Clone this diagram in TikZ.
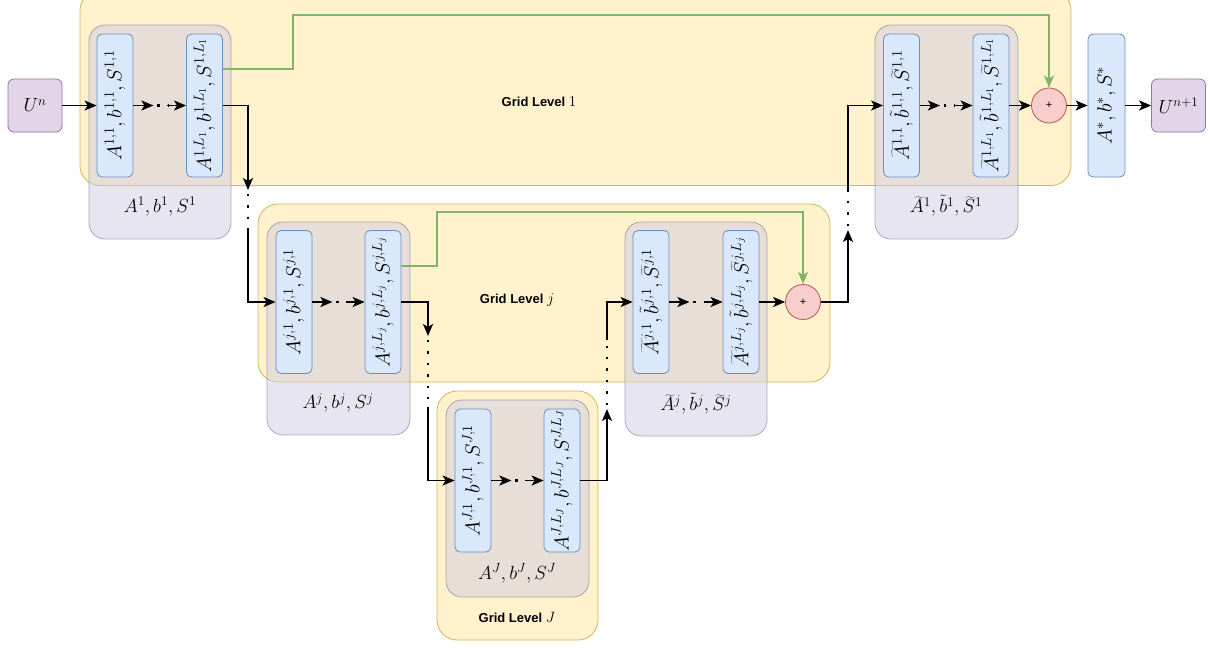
\RequirePackage{fix-cm}
\documentclass[tikz,border=0pt]{standalone}
\usepackage{fontspec}
\newfontfamily\helv{Liberation Sans}
\usetikzlibrary{arrows.meta,calc}
\definecolor{ylwF}{HTML}{FFF2CC}\definecolor{ylwD}{HTML}{D6B656}
\definecolor{bluF}{HTML}{DAE8FC}\definecolor{bluD}{HTML}{6C8EBF}
\definecolor{purF}{HTML}{E1D5E7}\definecolor{purD}{HTML}{9673A6}
\definecolor{redF}{HTML}{F8CECC}\definecolor{redD}{HTML}{B85450}
\definecolor{grnD}{HTML}{82B366}
\definecolor{grpF}{HTML}{D0CEE2}\definecolor{grpD}{HTML}{56517E}
\newcommand\mathfont{\fontsize{19}{22}\selectfont}
\newcommand\rotfont{\fontsize{20.5}{23}\selectfont}
\tikzset{
 level/.style={draw=ylwD, fill=ylwF, rounded corners=20pt, line width=0.8pt, inner sep=0pt},
 group/.style={draw=grpD, draw opacity=0.45, fill=grpF, fill opacity=0.5, rounded corners=16pt, line width=0.8pt, inner sep=0pt},
 layer/.style={draw=bluD, fill=bluF, rounded corners=5pt, minimum width=36pt, minimum height=143pt, inner sep=0pt, line width=0.8pt},
 state/.style={draw=purD, fill=purF, rounded corners=6pt, minimum width=54pt, minimum height=53pt, inner sep=0pt, line width=0.8pt, font=\mathfont},
 sumnode/.style={circle, draw=redD, fill=redF, minimum size=35pt, inner sep=0pt, line width=0.8pt, font=\helv\fontsize{11}{13}\selectfont},
 arr/.style={-{Stealth[length=12pt,width=10pt,inset=3pt]}, line width=1.8pt},
 dotline/.style={line width=2.4pt, dash pattern=on 2.4pt off 9pt, dash phase=-4pt},
 grnarr/.style={draw=grnD, line width=1.8pt, -{Stealth[length=12pt,width=10pt,inset=3pt]}},
 lvltext/.style={font=\helv\bfseries\fontsize{13}{15}\selectfont},
 grplabel/.style={font=\mathfont, inner sep=1pt},
 rot/.style={rotate=90, font=\rotfont, inner sep=0pt},
}
\newcommand\linkdots[2]{%
 \draw[arr] (#1.east) -- ($(#1.east)+(20,0)$);
 \draw[line width=2.4pt, dash pattern=on 2.4pt off 8pt, dash phase=-2pt] ($(#1.east)+(22,0)$) -- ($(#2.west)+(-18,0)$);
 \draw[arr] ($(#2.west)+(-19,0)$) -- (#2.west);}
\begin{document}
\begin{tikzpicture}[x=1pt,y=-1pt]
\useasboundingbox (0,0) rectangle (1210,648);
\clip (0,0) rectangle (1210,648);
% containers
\node[level, minimum width=991pt, minimum height=195pt] (L1) at (575.5,88) {};
\node[level, minimum width=572pt, minimum height=178pt] (Lj) at (544,293) {};
\node[level, minimum width=161pt, minimum height=249pt] (LJ) at (517.5,515.5) {};
% groups
\node[group, minimum width=142pt, minimum height=214pt] (G1) at (160,132) {};
\node[group, minimum width=143pt, minimum height=214pt] (H1) at (946.5,132) {};
\node[group, minimum width=143pt, minimum height=213pt] (Gj) at (338.5,328.5) {};
\node[group, minimum width=142pt, minimum height=214pt] (Hj) at (696,329) {};
\node[group, minimum width=143pt, minimum height=197pt] (GJ) at (517.5,498.5) {};
% level texts
\node[lvltext] (t1) at (539,102) {Grid Level {\fontsize{15}{17}\selectfont$1$}};
\node[lvltext] (tj) at (517,300) {Grid Level {\fontsize{15}{17}\selectfont$j$}};
\node[lvltext] (tJ) at (517,617) {Grid Level {\fontsize{15}{17}\selectfont$J$}};
% group labels
\node[grplabel] (g1) at (160,207) {$A^1,b^1,S^1$};
\node[grplabel] (h1) at (946,206) {$\widetilde{A}^1,\tilde{b}^1,\widetilde{S}^1$};
\node[grplabel] (gj) at (338,403) {$A^j,b^j,S^j$};
\node[grplabel] (hj) at (696,404) {$\widetilde{A}^j,\tilde{b}^j,\widetilde{S}^j$};
\node[grplabel] (gJ) at (517,573) {$A^J,b^J,S^J$};
% layers
\node[layer, label={[rot]center:$A^{1,1},b^{1,1},S^{1,1}$}] (a11) at (115,105.5) {};
\node[layer, label={[rot]center:$A^{1,L_1},b^{1,L_1},S^{1,L_1}$}] (a1L) at (204.5,105.5) {};
\node[layer, label={[rot]center:$\widetilde{A}^{1,1},\tilde{b}^{1,1},\widetilde{S}^{1,1}$}] (b11) at (901.5,105.5) {};
\node[layer, label={[rot]center:$\widetilde{A}^{1,L_1},\tilde{b}^{1,L_1},\widetilde{S}^{1,L_1}$}] (b1L) at (991,105.5) {};
\node[layer, minimum width=37pt, label={[rot]center:$A^*,b^*,S^*$}] (ast) at (1106.5,105.5) {};
\node[layer, label={[rot]center:$A^{j,1},b^{j,1},S^{j,1}$}] (aj1) at (294,302) {};
\node[layer, label={[rot]center:$A^{j,L_j},b^{j,L_j},S^{j,L_j}$}] (ajL) at (383,302) {};
\node[layer, label={[rot]center:$\widetilde{A}^{j,1},\tilde{b}^{j,1},\widetilde{S}^{j,1}$}] (bj1) at (651,302) {};
\node[layer, label={[rot]center:$\widetilde{A}^{j,L_j},\tilde{b}^{j,L_j},\widetilde{S}^{j,L_j}$}] (bjL) at (741,302) {};
\node[layer, label={[rot]center:$A^{J,1},b^{J,1},S^{J,1}$}] (aJ1) at (473,480.5) {};
\node[layer, label={[rot]center:$A^{J,L_J},b^{J,L_J},S^{J,L_J}$}] (aJL) at (562,480.5) {};
% states and sums
\node[state] (Un) at (35,105.5) {$U^n$};
\node[state] (Un1) at (1178.5,105.5) {$U^{n+1}$};
\node[sumnode] (p1) at (1049,105.5) {+};
\node[sumnode] (pj) at (803,302) {+};
% dot-break coordinates
\coordinate (d1a) at (248,190);
\coordinate (d1b) at (248,228);
\coordinate (d2a) at (428,336);
\coordinate (d2b) at (428,407);
\coordinate (d3a) at (607,409);
\coordinate (d3b) at (607,340);
\coordinate (d4a) at (848,230);
\coordinate (d4b) at (848,190);
% connectors
\draw[arr] (Un) -- (a11);
\linkdots{a11}{a1L}
\linkdots{aj1}{ajL}
\linkdots{aJ1}{aJL}
\linkdots{bj1}{bjL}
\linkdots{b11}{b1L}
\draw[arr] (a1L.east) -| (d1a);
\draw[dotline] (d1a) -- (d1b);
\draw[arr] (d1b) |- (aj1.west);
\draw[arr] (ajL.east) -| (d2a);
\draw[dotline] (d2a) -- (d2b);
\draw[arr] (d2b) |- (aJ1.west);
\draw[arr] (aJL.east) -| (d3a);
\draw[dotline] (d3a) -- (d3b);
\draw[arr] (d3b) |- (bj1.west);
\draw[arr] (bjL) -- (pj);
\draw[arr] (pj.east) -| (d4a);
\draw[dotline] (d4a) -- (d4b);
\draw[arr] (d4b) |- (b11.west);
\draw[arr] (b1L) -- (p1);
\draw[arr] (p1) -- (ast);
\draw[arr] (ast) -- (Un1);
% green skip connections
\draw[grnarr] ([yshift=36.5pt]a1L.east) -- (293,69) -- (293,15) -| (p1.north);
\draw[grnarr] ([yshift=36pt]ajL.east) -- (437,266) -- (437,212) -| (pj.north);
\end{tikzpicture}
\end{document}
